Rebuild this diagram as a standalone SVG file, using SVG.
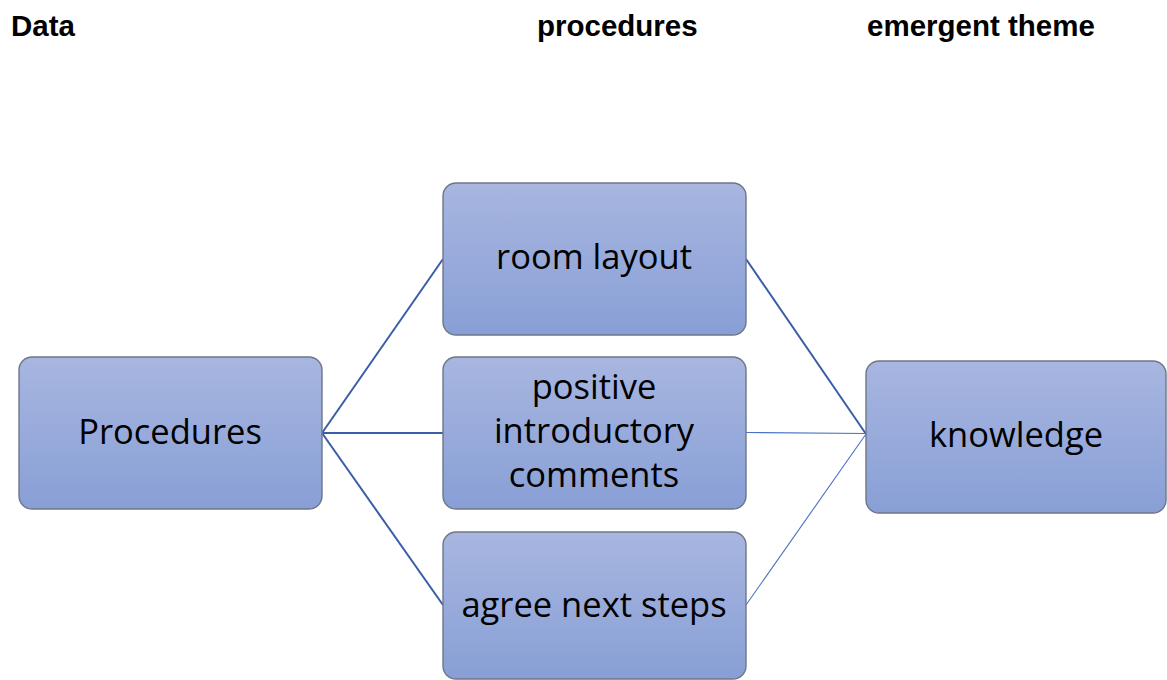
<svg xmlns="http://www.w3.org/2000/svg" width="1167" height="680" viewBox="0 0 1167 680">
<defs>
<linearGradient id="g" x1="0" y1="0" x2="0" y2="1">
<stop offset="0" stop-color="#a8b6e0"/>
<stop offset="1" stop-color="#889fd6"/>
</linearGradient>
<style>
.box{fill:url(#g);stroke:#6e7787;stroke-width:1.4}
.lbl{font-family:"Open Sans","Liberation Sans",sans-serif;font-size:34.5px;fill:#000;text-anchor:middle}
.hdr{font-family:"Liberation Sans",Arial,sans-serif;font-size:29.5px;font-weight:bold;fill:#000}
.thick{stroke:#3a5da8;stroke-width:2;fill:none}
.thin{stroke:#4a72c4;stroke-width:1.1;fill:none}
</style>
</defs>
<rect width="1167" height="680" fill="#fff"/>
<g id="headers">
<text class="hdr" x="11" y="36">Data</text>
<text class="hdr" x="537" y="36">procedures</text>
<text class="hdr" x="867" y="36">emergent theme</text>
</g>
<g id="connectors">
<line class="thick" x1="322" y1="433" x2="443" y2="259"/>
<line class="thick" x1="322" y1="433" x2="443" y2="433"/>
<line class="thick" x1="322" y1="433" x2="443" y2="605"/>
<line class="thick" x1="746" y1="259" x2="866" y2="434"/>
<line class="thin" x1="746" y1="432.5" x2="866" y2="433.5"/>
<line class="thin" x1="746" y1="605" x2="866" y2="434"/>
</g>
<g id="node-procedures">
<rect class="box" x="19" y="357" width="303" height="152" rx="13"/>
<text class="lbl" x="170" y="444">Procedures</text>
</g>
<g id="node-room-layout">
<rect class="box" x="443" y="183" width="303" height="152" rx="13"/>
<text class="lbl" x="594" y="269">room layout</text>
</g>
<g id="node-positive">
<rect class="box" x="443" y="357" width="303" height="152" rx="13"/>
<text class="lbl" x="594" y="399">positive</text>
<text class="lbl" x="594" y="443">introductory</text>
<text class="lbl" x="594" y="487">comments</text>
</g>
<g id="node-agree">
<rect class="box" x="443" y="532" width="303" height="147" rx="13"/>
<text class="lbl" x="594" y="617">agree next steps</text>
</g>
<g id="node-knowledge">
<rect class="box" x="866" y="361" width="300" height="152" rx="13"/>
<text class="lbl" x="1016" y="447">knowledge</text>
</g>
</svg>
